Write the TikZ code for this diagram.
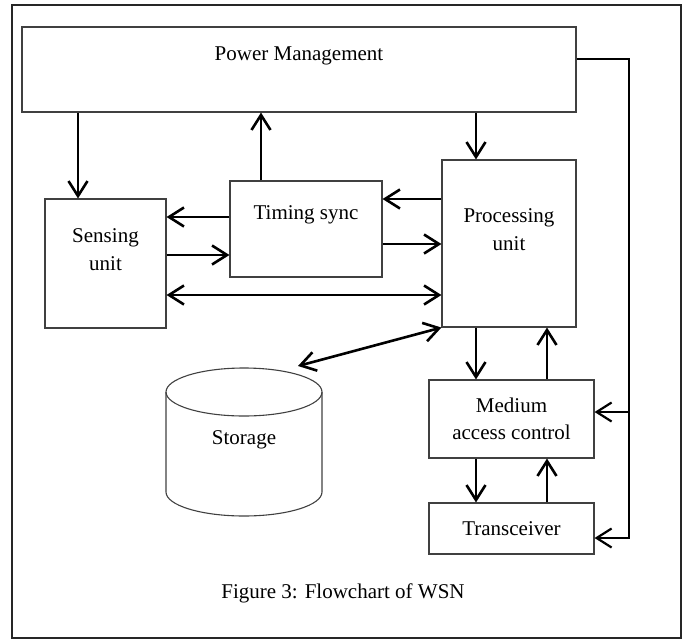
\documentclass[tikz,border=0pt]{standalone}
\usepackage{fontspec}
\setmainfont{Liberation Serif}
\usetikzlibrary{arrows.meta}

\begin{document}
\begin{tikzpicture}[x=1pt,y=-1pt,>={Straight Barb[length=15pt,width=19pt]},
	box/.style={draw=black!75,line width=1.1pt,inner sep=0pt},
	txt/.style={font=\fontsize{21}{27.5}\selectfont,align=center},
	topbox/.style={box,label={[txt,yshift=14pt]center:#1}},
	flow/.style={line width=2.6pt,->}]
	\useasboundingbox (0,0) rectangle (689,641);
	\draw[line width=2.2pt,black!85] (12,5) rectangle (681,638);

	% blocks
	\node[topbox={Power Management},minimum width=554pt,minimum height=85pt] (pm) at (299,69.5) {};
	\node[topbox={Sensing\\unit},minimum width=121pt,minimum height=129pt] (sens) at (105.5,263.5) {};
	\node[topbox={Timing sync},minimum width=152pt,minimum height=96pt] (tim) at (306,229) {};
	\node[topbox={Processing\\unit},minimum width=134pt,minimum height=167pt] (proc) at (509,243.5) {};
	\node[box,txt,minimum width=165pt,minimum height=78pt] (mac) at (511.5,419) {Medium\\access control};
	\node[box,txt,minimum width=165pt,minimum height=51pt] (trx) at (511.5,528.5) {Transceiver};

	% storage drum
	\draw[line width=1.1pt,black!75] (166,392) -- (166,492)
		arc[start angle=180, end angle=0, x radius=78, y radius=24] -- (322,392);
	\draw[line width=1.1pt,black!75] (244,392) ellipse[x radius=78, y radius=24];
	\node[txt] (stor) at (244,440) {Storage};
	\coordinate (stortop) at (298,366);

	\node[txt] (cap) at (343,593) {Figure 3: Flowchart of WSN};

	% vertical links
	\foreach \a/\b/\x in {pm/sens/78, pm/proc/476, proc/mac/476, mac/trx/476} {
		\draw[flow] (\a.south -| \x,0) -- (\b.north -| \x,0);
	};
	\foreach \a/\b/\x in {tim/pm/261, mac/proc/547, trx/mac/547} {
		\draw[flow] (\a.north -| \x,0) -- (\b.south -| \x,0);
	};
	% horizontal links
	\foreach \a/\b/\y in {proc/tim/199, tim/sens/217} {
		\draw[flow] (\a.west |- 0,\y) -- (\b.east |- 0,\y);
	};
	\foreach \a/\b/\y in {sens/tim/255, tim/proc/244} {
		\draw[flow] (\a.east |- 0,\y) -- (\b.west |- 0,\y);
	};
	\draw[flow,<->] (sens.east |- 0,295) -- (proc.west |- 0,295);
	\draw[flow,<->] (stortop) -- (proc.south west);

	% power feed to radio side
	\coordinate (bend) at (629,59);
	\coordinate (tap) at (629,412);
	\coordinate (foot) at (629,538);
	\draw[line width=2.2pt,->] (pm.east |- bend) -- (bend) -- (foot) -- (trx.east |- foot);
	\draw[line width=2.2pt,->] (tap) -- (mac.east |- tap);
\end{tikzpicture}
\end{document}
